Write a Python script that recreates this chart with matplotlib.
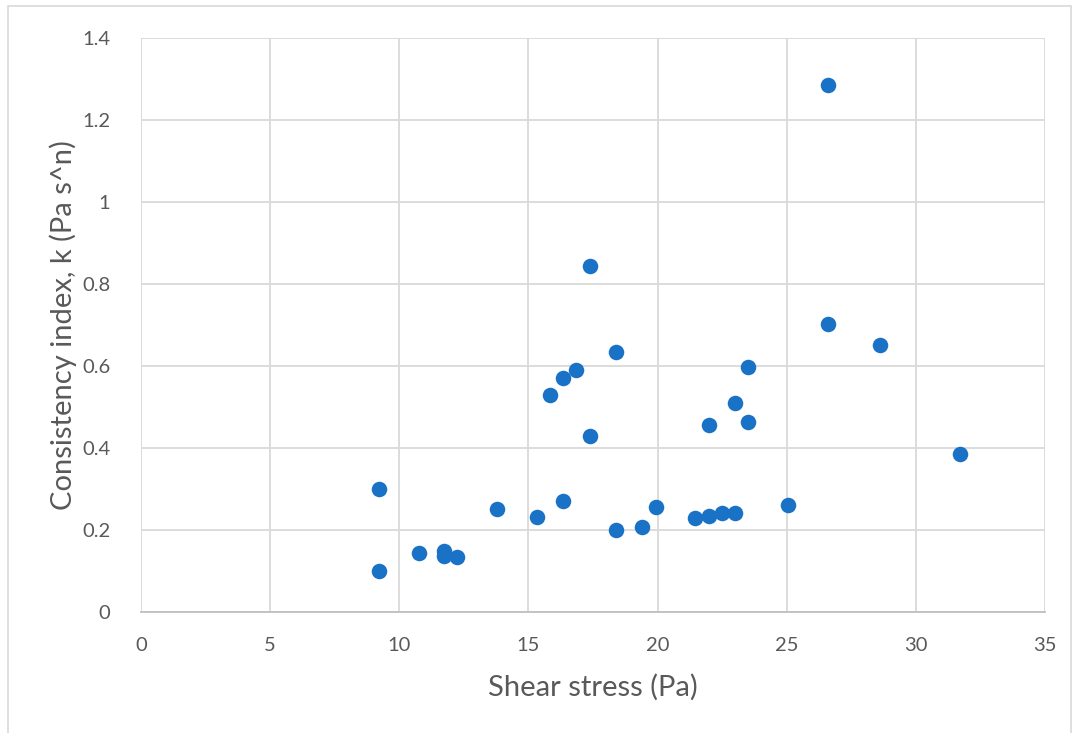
import matplotlib
matplotlib.use("Agg")
from matplotlib import pyplot as plt
from matplotlib.patches import Rectangle
import numpy as np

plt.rcParams['font.family'] = ['Lato', 'DejaVu Sans']

# shear stress (Pa) and consistency index k (Pa s^n)
shear = [9.2, 9.2, 10.75, 11.75, 11.75, 12.25, 13.8, 15.35, 15.85, 16.35, 16.35,
         16.85, 17.4, 17.4, 18.4, 18.4, 19.4, 19.95, 21.45, 22.0, 22.0, 22.5, 23.0,
         23.0, 23.5, 23.5, 25.05, 26.6, 26.6, 28.6, 31.7]
k_index = [0.30, 0.10, 0.145, 0.148, 0.137, 0.133, 0.25, 0.232, 0.53, 0.57, 0.27,
           0.59, 0.845, 0.43, 0.635, 0.20, 0.207, 0.256, 0.229, 0.233, 0.455, 0.242, 0.242,
           0.51, 0.463, 0.597, 0.262, 1.285, 0.702, 0.651, 0.385]

xticks = [0, 5, 10, 15, 20, 25, 30, 35]
yticks = [0, 0.2, 0.4, 0.6, 0.8, 1.0, 1.2, 1.4]
ylabels = ['0', '0.2', '0.4', '0.6', '0.8', '1', '1.2', '1.4']

txt = '#595959'
grid = '#d9d9d9'

fig = plt.figure(figsize=(10.77, 7.33), dpi=100)
ax = fig.add_axes([0.1309, 0.1651, 0.8394, 0.7831])

# outer chart border
fig.patches.append(Rectangle((8/1077, -0.05), 1063/1077, 1 - 6/733 + 0.05,
                             transform=fig.transFigure, fill=False,
                             edgecolor='#d9d9d9', linewidth=1.2))

ax.scatter(shear, k_index, s=125, color='#1a72c7', zorder=3, linewidths=0)

ax.set_xlim(0, 35)
ax.set_ylim(0, 1.4)
ax.set_xticks(xticks)
ax.set_xticklabels([str(v) for v in xticks])
ax.set_yticks(yticks)
ax.set_yticklabels(ylabels)
ax.grid(True, color=grid, linewidth=1.3, zorder=0)
ax.set_axisbelow(True)
for s in ['top', 'right', 'left']:
	ax.spines[s].set_visible(False)
ax.spines['bottom'].set_color('#bfbfbf')
ax.spines['bottom'].set_linewidth(1.3)
ax.tick_params(axis='both', length=0, labelsize=14.5, labelcolor=txt)
ax.tick_params(axis='x', pad=18)
ax.tick_params(axis='y', pad=22)

ax.set_xlabel('Shear stress (Pa)', fontsize=21, color=txt, labelpad=14)
ax.set_ylabel('Consistency index, k (Pa s^n)', fontsize=21, color=txt, labelpad=4)

plt.savefig('out.png', dpi=100)
